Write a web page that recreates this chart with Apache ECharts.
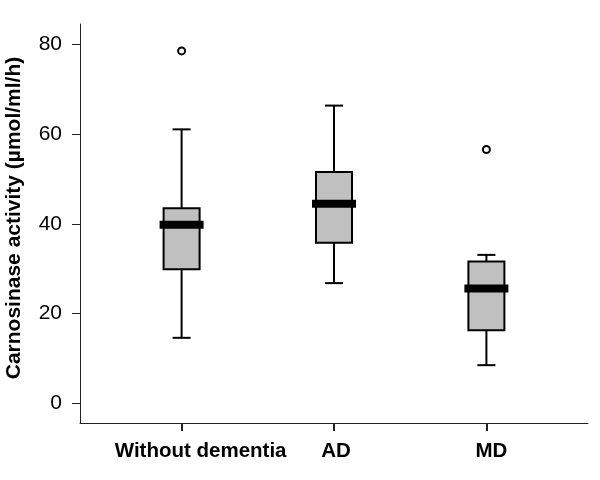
<!DOCTYPE html>
<html>
<head>
<meta charset="utf-8">
<script src="https://cdn.jsdelivr.net/npm/echarts@6/dist/echarts.min.js"></script>
<style>html,body{margin:0;padding:0;background:#fff}#c{width:600px;height:480px}</style>
</head>
<body>
<div id="c"></div>
<script>
var categories = ['Without dementia', 'AD', 'MD'];
var whiskerLow = [14.6, 26.8, 8.5];
var q1 = [29.9, 35.8, 16.3];
var medians = [39.8, 44.5, 25.6];
var q3 = [43.5, 51.6, 31.6];
var whiskerHigh = [61.1, 66.4, 33.1];
var outlierGroup = [0, 2];
var outlierValue = [78.6, 56.6];
var yTicks = [0, 20, 40, 60, 80];
var yTitle = 'Carnosinase activity (\u00b5mol/ml/h)';

var positions = categories.map(function (c, i) { return i + 1; });
var boxData = categories.map(function (c, i) {
  return [positions[i], whiskerLow[i], q1[i], medians[i], q3[i], whiskerHigh[i]];
});
var outData = outlierGroup.map(function (g, i) { return [positions[g], outlierValue[i]]; });

var chart = echarts.init(document.getElementById('c'));
var FONT = 'Liberation Sans, Arial, sans-serif';
var labelStyle = { fontFamily: FONT, fontSize: 20.5, fontWeight: 'bold', color: '#000' };
var richStyles = {
  l0: Object.assign({ padding: [0, 0, 0, 38] }, labelStyle),
  l1: Object.assign({ padding: [0, 0, 0, 4] }, labelStyle),
  l2: Object.assign({ padding: [0, 0, 0, 10] }, labelStyle)
};
chart.setOption({
  animation: false,
  backgroundColor: '#fff',
  grid: { left: 80, right: 12, top: 24, bottom: 57, outerBoundsMode: 'none', containLabel: false },
  xAxis: {
    type: 'value', min: 1 / 3, max: 11 / 3,
    splitLine: { show: false },
    axisLine: { show: true, onZero: false, lineStyle: { color: '#222', width: 1 } },
    axisTick: { show: true, customValues: positions, length: 8, lineStyle: { color: '#222', width: 2 } },
    axisLabel: {
      customValues: positions, margin: 18,
      fontFamily: FONT, fontSize: 20.5, fontWeight: 'bold', color: '#000',
      rich: richStyles,
      formatter: function (v) {
        var i = Math.round(v) - 1;
        return categories[i] ? '{l' + i + '|' + categories[i] + '}' : '';
      }
    }
  },
  yAxis: {
    type: 'value', min: -4.4, max: 84.6,
    splitLine: { show: false },
    axisLine: { show: true, onZero: false, lineStyle: { color: '#222', width: 1 } },
    axisTick: { show: true, customValues: yTicks, length: 8, lineStyle: { color: '#222', width: 1 } },
    axisLabel: { customValues: yTicks, margin: 18, fontFamily: FONT, fontSize: 21, color: '#000' },
    name: yTitle, nameLocation: 'middle', nameGap: 55, nameRotate: 90,
    nameTextStyle: { fontFamily: FONT, fontSize: 21, fontWeight: 'bold', color: '#000', padding: [0, 0, 0, 11] }
  },
  series: [
    {
      type: 'custom',
      data: boxData,
      encode: { x: 0, y: [1, 2, 3, 4, 5] },
      renderItem: function (params, api) {
        var x = api.value(0);
        var pLow = api.coord([x, api.value(1)]);
        var pQ1 = api.coord([x, api.value(2)]);
        var pMed = api.coord([x, api.value(3)]);
        var pQ3 = api.coord([x, api.value(4)]);
        var pHigh = api.coord([x, api.value(5)]);
        var cx = pMed[0];
        var hw = 18, cap = 9, mhw = 22;
        var line = { stroke: '#000', lineWidth: 2 };
        return {
          type: 'group',
          children: [
            { type: 'line', shape: { x1: cx, y1: pHigh[1], x2: cx, y2: pQ3[1] }, style: line },
            { type: 'line', shape: { x1: cx - cap, y1: pHigh[1], x2: cx + cap, y2: pHigh[1] }, style: line },
            { type: 'line', shape: { x1: cx, y1: pQ1[1], x2: cx, y2: pLow[1] }, style: line },
            { type: 'line', shape: { x1: cx - cap, y1: pLow[1], x2: cx + cap, y2: pLow[1] }, style: line },
            { type: 'rect', shape: { x: cx - hw, y: pQ3[1], width: hw * 2, height: pQ1[1] - pQ3[1] },
              style: { fill: '#c0c0c0', stroke: '#000', lineWidth: 2 } },
            { type: 'rect', shape: { x: cx - mhw, y: pMed[1] - 4, width: mhw * 2, height: 8 },
              style: { fill: '#000' } }
          ]
        };
      }
    },
    {
      type: 'scatter',
      data: outData,
      symbol: 'circle', symbolSize: 7,
      itemStyle: { color: '#fff', borderColor: '#000', borderWidth: 2, opacity: 1 }
    }
  ]
});
</script>
</body>
</html>
